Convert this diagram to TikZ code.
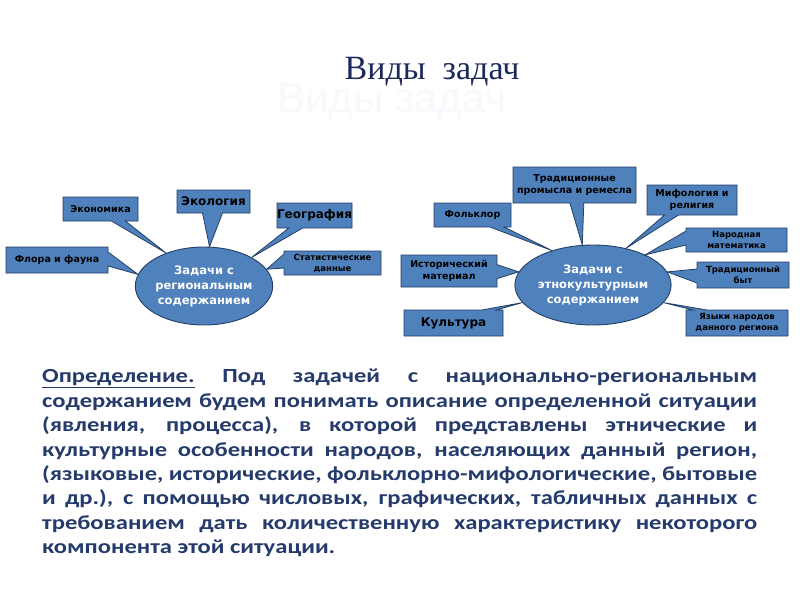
\documentclass[tikz,border=0pt]{standalone}
\usepackage{fontspec}
\usetikzlibrary{shapes.geometric,shapes.callouts}
\newfontfamily\boxfont{DejaVu Sans}
\newfontfamily\titlefont{Liberation Serif}
\newfontfamily\shadowfont{Liberation Sans}
\newfontfamily\parafont[FakeStretch=1.23]{Carlito}
\definecolor{boxblue}{HTML}{4F81BD}
\definecolor{boxline}{HTML}{243F66}
\definecolor{navy}{HTML}{1B2A5A}
\definecolor{paranavy}{HTML}{243B6B}
\definecolor{ghost}{HTML}{F7F9FC}
\tikzset{
  hub/.style={ellipse, draw=boxline, line width=0.9pt, fill=boxblue, text=white,
    font=\boxfont\bfseries\fontsize{11.5}{15}\selectfont, align=center, inner sep=0pt},
  cbox/.style={rectangle callout, draw=boxline, line width=0.8pt, fill=boxblue, text=black,
    inner sep=0pt, align=center, callout pointer width=14pt},
  small/.style={font=\boxfont\bfseries\fontsize{8.5}{11}\selectfont},
  mid/.style={font=\boxfont\bfseries\fontsize{9.5}{12}\selectfont},
  big/.style={font=\boxfont\bfseries\fontsize{12}{14}\selectfont},
}
\begin{document}
\begin{tikzpicture}[x=1pt,y=-1pt]
\useasboundingbox (0,0) rectangle (800,600);
\fill[white] (0,0) rectangle (800,600);

% title and its faint shadow
\node[font=\shadowfont\fontsize{42}{44}\selectfont, text=ghost] (shadow) at (392,102) {Виды задач};
\node[font=\titlefont\fontsize{34}{36}\selectfont, text=navy] (title) at (432,72) {Виды\ \ задач};

% hubs
\node[hub, minimum width=132pt, minimum height=78pt] (L) at (204,286) {Задачи с\\региональным\\содержанием};
\node[hub, minimum width=126pt, minimum height=80pt] (R) at (593,285) {Задачи с\\этнокультурным\\содержанием};

% left callouts
\node[cbox, mid, minimum width=102pt, minimum height=26pt, callout absolute pointer={(L.170)}] (flora) at (57,260) {Флора и фауна};
\node[cbox, mid, minimum width=75pt, minimum height=24pt, callout absolute pointer={(L.139)}] (econ) at (100.5,209) {Экономика};
\node[cbox, big, minimum width=73pt, minimum height=23pt, callout absolute pointer={(L.82)}, callout pointer width=20pt] (ecol) at (213.5,201.5) {Экология};
\node[cbox, big, minimum width=75pt, minimum height=25pt, callout absolute pointer={(L.31)}] (geo) at (314.5,215.5) {География};
\node[cbox, small, minimum width=97pt, minimum height=24pt, callout absolute pointer={(L.15)}] (stat) at (332.5,263) {Статистические\\данные};

% right callouts
\node[cbox, mid, minimum width=123pt, minimum height=36pt, callout absolute pointer={(R.105)}] (trad) at (574.5,185) {Традиционные\\промысла и ремесла};
\node[cbox, mid, minimum width=90pt, minimum height=30pt, callout absolute pointer={(R.48)}] (mif) at (692,200) {Мифология и\\религия};
\node[cbox, mid, minimum width=77pt, minimum height=24pt, callout absolute pointer={(R.140)}] (folk) at (472.5,215) {Фольклор};
\node[cbox, small, minimum width=101pt, minimum height=24pt, callout absolute pointer={(R.30)}] (narod) at (736.5,240) {Народная\\математика};
\node[cbox, mid, minimum width=96pt, minimum height=32pt, callout absolute pointer={(R.170)}] (hist) at (449,271) {Исторический\\материал};
\node[cbox, small, minimum width=92pt, minimum height=26pt, callout absolute pointer={(R.10)}] (byt) at (743,275) {Традиционный\\быт};
\node[cbox, big, minimum width=99pt, minimum height=26pt, callout absolute pointer={(R.194)}] (kult) at (453.5,323) {Культура};
\node[cbox, small, minimum width=102pt, minimum height=26pt, callout absolute pointer={(R.346)}] (yaz) at (737,323) {Языки народов\\данного региона};

% definition paragraph
\node[anchor=north west, inner sep=0pt, text width=715pt, align=justify, text=paranavy,
  font=\parafont\bfseries\fontsize{20}{24.4}\selectfont] (def) at (42,369) {%
\tolerance=10000\emergencystretch=50pt\exhyphenpenalty=10000\hyphenpenalty=10000\parindent=0pt
\leftskip=0pt\rightskip=0pt\parfillskip=0pt plus 1fil
\underline{Определение.} Под задачей с национально-региональным\linebreak
содержанием будем понимать описание определенной ситуации\linebreak
(явления, процесса), в которой представлены этнические и\linebreak
культурные особенности народов, населяющих данный регион,\linebreak
(языковые, исторические, фольклорно-мифологические, бытовые\linebreak
и др.), с помощью числовых, графических, табличных данных с\linebreak
требованием дать количественную характеристику некоторого\linebreak
компонента этой ситуации.};
\end{tikzpicture}
\end{document}
